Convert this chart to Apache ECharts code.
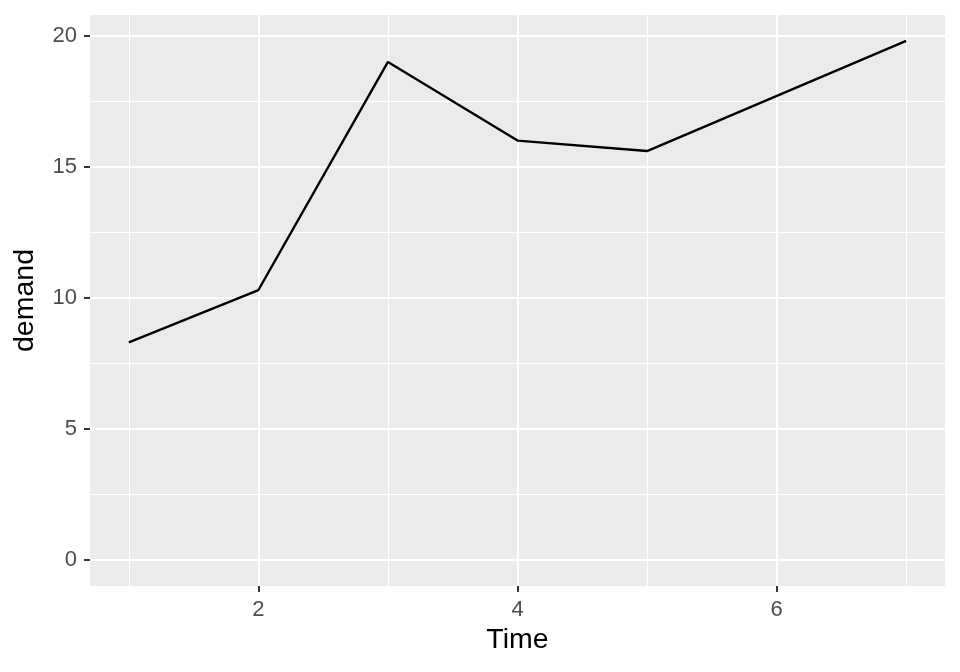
<!DOCTYPE html>
<html>
<head>
<meta charset="utf-8">
<script src="https://cdn.jsdelivr.net/npm/echarts@6/dist/echarts.min.js"></script>
<style>html,body{margin:0;padding:0;background:#fff}#c{width:960px;height:672px}</style>
</head>
<body>
<div id="c"></div>
<script>
const time = [1, 2, 3, 4, 5, 7];
const demand = [8.3, 10.3, 19.0, 16.0, 15.6, 19.8];
const xBreaks = [2, 4, 6];
const xMinor = [1, 3, 5, 7];
const yBreaks = [0, 5, 10, 15, 20];
const yMinor = [2.5, 7.5, 12.5, 17.5];

const FONT = '"Liberation Sans", Arial, Helvetica, sans-serif';
const xMin = 0.7, xMax = 7.3, yMin = -0.99, yMax = 20.79;

const chart = echarts.init(document.getElementById('c'), null, {renderer: 'canvas'});
chart.setOption({
  animation: false,
  backgroundColor: '#ffffff',
  grid: {left: 90, right: 15, top: 15, bottom: 86, show: true, backgroundColor: '#EBEBEB', borderWidth: 0},
  xAxis: [{
    type: 'value', min: xMin, max: xMax,
    name: 'Time', nameLocation: 'middle', nameGap: 40,
    nameTextStyle: {color: '#000', fontSize: 28.5, fontFamily: FONT},
    axisLine: {show: false, onZero: false},
    axisTick: {show: true, length: 6, customValues: xBreaks, lineStyle: {color: '#333333', width: 2}},
    axisLabel: {show: true, margin: 13, customValues: xBreaks, color: '#4D4D4D', fontSize: 22, fontFamily: FONT},
    splitLine: {show: true, lineStyle: {color: '#ffffff', width: 2}}
  }, {
    type: 'value', min: xMin, max: xMax, position: 'bottom',
    axisLine: {show: false, onZero: false},
    axisTick: {show: false, customValues: xMinor},
    axisLabel: {show: false, customValues: xMinor},
    splitLine: {show: true, lineStyle: {color: '#ffffff', width: 1}}
  }],
  yAxis: [{
    type: 'value', min: yMin, max: yMax,
    name: 'demand', nameLocation: 'middle', nameGap: 50, nameRotate: 90,
    nameTextStyle: {color: '#000', fontSize: 28.5, fontFamily: FONT},
    axisLine: {show: false, onZero: false},
    axisTick: {show: true, length: 6, customValues: yBreaks, lineStyle: {color: '#333333', width: 2}},
    axisLabel: {show: true, margin: 13, customValues: yBreaks, color: '#4D4D4D', fontSize: 22, fontFamily: FONT},
    splitLine: {show: true, lineStyle: {color: '#ffffff', width: 2}}
  }, {
    type: 'value', min: yMin, max: yMax, position: 'left',
    axisLine: {show: false, onZero: false},
    axisTick: {show: false, customValues: yMinor},
    axisLabel: {show: false, customValues: yMinor},
    splitLine: {show: true, lineStyle: {color: '#ffffff', width: 1}}
  }],
  series: [{
    type: 'line',
    xAxisIndex: 0, yAxisIndex: 0,
    data: time.map((t, i) => [t, demand[i]]),
    symbol: 'none',
    lineStyle: {color: '#000000', width: 2.4},
    z: 5
  }]
});
</script>
</body>
</html>
